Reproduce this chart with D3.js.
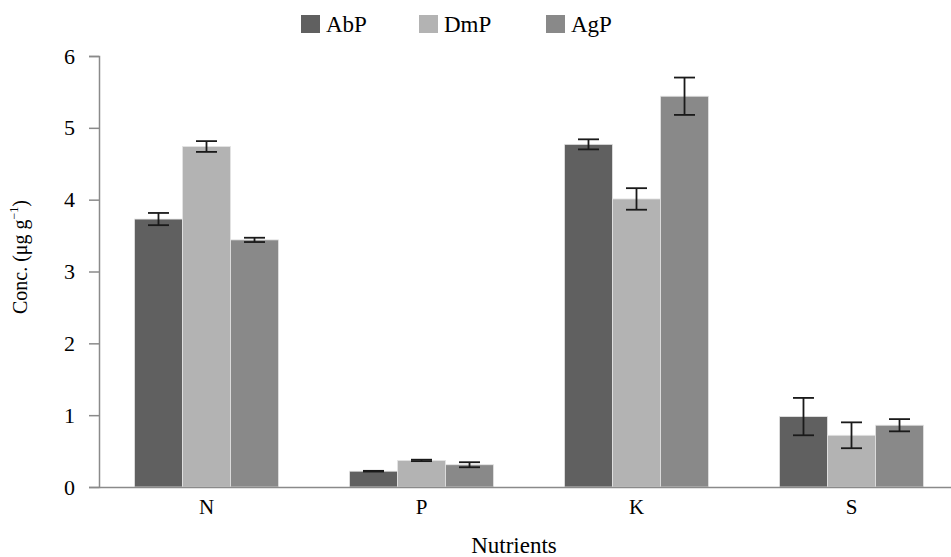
<!DOCTYPE html>
<html>
<head>
<meta charset="utf-8">
<script src="https://cdn.jsdelivr.net/npm/d3@7"></script>
<style>
  body { margin: 0; background: #fff; }
  text { font-family: "Liberation Serif", "Times New Roman", serif; }
</style>
</head>
<body>
<svg id="chart"></svg>
<script>
// nutrient groups and series
var nutrients = ["N", "P", "K", "S"];
var seriesNames = ["AbP", "DmP", "AgP"];
var seriesColors = ["#606060", "#b3b3b3", "#898989"];

// mean values per series (same order as nutrients)
var abpValues = [3.73, 0.22, 4.77, 0.98];
var dmpValues = [4.74, 0.37, 4.01, 0.72];
var agpValues = [3.44, 0.31, 5.44, 0.86];

// error (+/-) per series
var abpErrors = [0.085, 0.005, 0.07, 0.26];
var dmpErrors = [0.075, 0.01, 0.15, 0.18];
var agpErrors = [0.03, 0.035, 0.26, 0.085];

var yTicks = [0, 1, 2, 3, 4, 5, 6];

var svgWidth = 951, svgHeight = 557;
var margin = {top: 56, left: 99, bottom: 70, right: -8};
var plotHeight = svgHeight - margin.top - margin.bottom;
var plotWidth = svgWidth - margin.left - margin.right;

var svg = d3.select("#chart")
    .attr("width", svgWidth)
    .attr("height", svgHeight);

var canvas = svg.append("g")
    .attr("transform", "translate(" + margin.left + "," + margin.top + ")");

var values = [abpValues, dmpValues, agpValues];
var errors = [abpErrors, dmpErrors, agpErrors];

var data = [];
nutrients.forEach(function (n, i) {
    seriesNames.forEach(function (s, j) {
        data.push({nutrient: n, series: s, idx: j, value: values[j][i], err: errors[j][i]});
    });
});

var xScale = d3.scaleBand()
    .domain(nutrients)
    .range([0, plotWidth])
    .paddingInner(0.33)
    .paddingOuter(0.165);

var xInner = d3.scaleBand()
    .domain(seriesNames)
    .range([0, xScale.bandwidth()]);

var yScale = d3.scaleLinear()
    .domain([0, 6])
    .range([plotHeight, 0]);

// bars
canvas.selectAll("rect.bar")
    .data(data)
    .enter().append("rect")
    .attr("class", "bar")
    .attr("x", function (d) { return xScale(d.nutrient) + xInner(d.series); })
    .attr("y", function (d) { return yScale(d.value); })
    .attr("width", xInner.bandwidth())
    .attr("height", function (d) { return yScale(0) - yScale(d.value); })
    .attr("fill", function (d) { return seriesColors[d.idx]; })
    .attr("stroke", "#e4e4e4")
    .attr("stroke-width", 0.8);

// error bars
var errG = canvas.selectAll("g.err")
    .data(data)
    .enter().append("g")
    .attr("class", "err")
    .attr("transform", function (d) {
        return "translate(" + (xScale(d.nutrient) + xInner(d.series) + xInner.bandwidth() / 2) + ",0)";
    })
    .attr("stroke", "#1a1a1a")
    .attr("stroke-width", 1.8);

errG.append("line")
    .attr("y1", function (d) { return yScale(d.value + d.err); })
    .attr("y2", function (d) { return yScale(d.value - d.err); });
errG.append("line")
    .attr("x1", -10.5).attr("x2", 10.5)
    .attr("y1", function (d) { return yScale(d.value + d.err); })
    .attr("y2", function (d) { return yScale(d.value + d.err); });
errG.append("line")
    .attr("x1", -10.5).attr("x2", 10.5)
    .attr("y1", function (d) { return yScale(d.value - d.err); })
    .attr("y2", function (d) { return yScale(d.value - d.err); });

// axes
var yAxisG = canvas.append("g")
    .call(d3.axisLeft(yScale).tickValues(yTicks).tickFormat(d3.format("d")).tickSize(10).tickPadding(14));
yAxisG.selectAll("path, line").attr("stroke", "#8a8a8a").attr("stroke-width", 1.5);
yAxisG.selectAll("text").attr("font-size", 22).attr("fill", "#000")
    .attr("font-family", "Liberation Serif");

var xAxisG = canvas.append("g")
    .attr("transform", "translate(0," + plotHeight + ")")
    .call(d3.axisBottom(xScale).tickSize(0).tickSizeOuter(0).tickPadding(12));
xAxisG.select("path").attr("stroke", "#8a8a8a").attr("stroke-width", 1.5);
xAxisG.selectAll("text").attr("font-size", 21).attr("fill", "#000")
    .attr("font-family", "Liberation Serif");

// axis titles
svg.append("text")
    .attr("x", 514).attr("y", 553)
    .attr("text-anchor", "middle")
    .attr("font-size", 23)
    .text("Nutrients");

var yTitle = svg.append("text")
    .attr("transform", "translate(27,257) rotate(-90)")
    .attr("text-anchor", "middle")
    .attr("font-size", 20);
yTitle.append("tspan").text("Conc. (μg g");
yTitle.append("tspan").attr("font-size", 12).attr("dy", -9).text("−1");
yTitle.append("tspan").attr("dy", 9).text(")");

// legend
var legendX = [301, 419, 546];
var legend = svg.selectAll("g.legend")
    .data(seriesNames)
    .enter().append("g")
    .attr("class", "legend")
    .attr("transform", function (d, i) { return "translate(" + legendX[i] + ",15)"; });
legend.append("rect")
    .attr("width", 19).attr("height", 18)
    .attr("fill", function (d, i) { return seriesColors[i]; });
legend.append("text")
    .attr("x", 25).attr("y", 17)
    .attr("font-size", 23)
    .text(function (d) { return d; });
</script>
</body>
</html>
